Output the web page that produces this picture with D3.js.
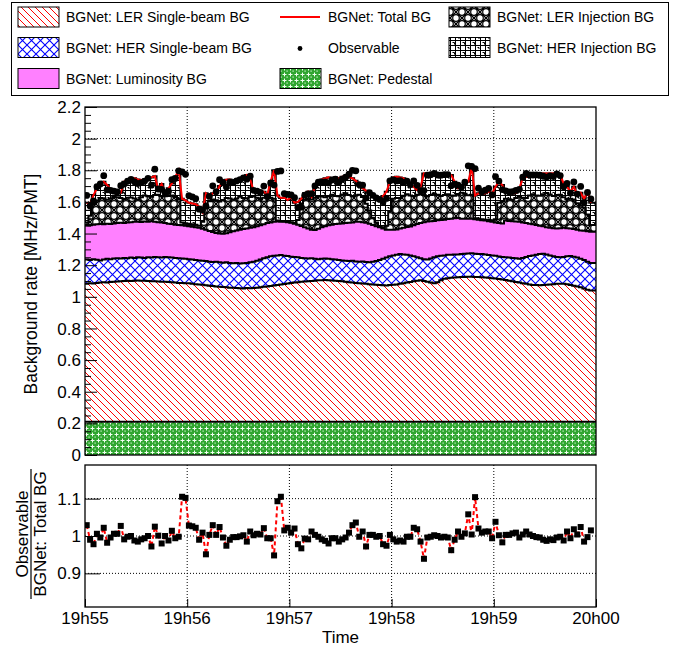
<!DOCTYPE html>
<html><head><meta charset="utf-8">
<script src="https://cdn.jsdelivr.net/npm/d3@7"></script>
<style>
body{margin:0;background:#fff}
svg{display:block}
text{font-family:"Liberation Sans",Arial,Helvetica,sans-serif;fill:#000}
</style>
</head><body>
<svg id="c" width="683" height="648"></svg>
<script>
// ---------------- DATA ----------------
const timeLabels = ["19h55","19h56","19h57","19h58","19h59","20h00"];
const tickSeconds = [0,60,120,180,240,300];
const yTicksMain = [0,0.2,0.4,0.6,0.8,1,1.2,1.4,1.6,1.8,2,2.2];
const yTickLabelsMain = ["0","0.2","0.4","0.6","0.8","1","1.2","1.4","1.6","1.8","2","2.2"];
const yTicksRatio = [0.9,1,1.1];
const yTickLabelsRatio = ["0.9","1","1.1"];

const pedestal = [
0.21,0.21,0.21,0.21,0.21,0.21,0.21,0.21,0.21,0.21,
0.21,0.21,0.21,0.21,0.21,0.21,0.21,0.21,0.21,0.21,
0.21,0.21,0.21,0.21,0.21,0.21,0.21,0.21,0.21,0.21,
0.21,0.21,0.21,0.21,0.21,0.21,0.21,0.21,0.21,0.21,
0.21,0.21,0.21,0.21,0.21,0.21,0.21,0.21,0.21,0.21,
0.21,0.21,0.21,0.21,0.21,0.21,0.21,0.21,0.21,0.21,
0.21,0.21,0.21,0.21,0.21,0.21,0.21,0.21,0.21,0.21,
0.21,0.21,0.21,0.21,0.21,0.21,0.21,0.21,0.21,0.21,
0.21,0.21,0.21,0.21,0.21,0.21,0.21,0.21,0.21,0.21,
0.21,0.21,0.21,0.21,0.21,0.21,0.21,0.21,0.21,0.21,
0.21,0.21,0.21,0.21,0.21,0.21,0.21,0.21,0.21,0.21,
0.21,0.21,0.21,0.21,0.21,0.21,0.21,0.21,0.21,0.21,
0.21,0.21,0.21,0.21,0.21,0.21,0.21,0.21,0.21,0.21,
0.21,0.21,0.21,0.21,0.21,0.21,0.21,0.21,0.21,0.21,
0.21,0.21,0.21,0.21,0.21,0.21,0.21,0.21,0.21];

const lerSingle = [
0.873,0.875,0.874,0.878,0.880,0.882,0.881,0.884,0.886,0.887,
0.889,0.890,0.891,0.890,0.892,0.893,0.891,0.892,0.890,0.889,
0.888,0.887,0.885,0.886,0.884,0.882,0.880,0.878,0.877,0.876,
0.875,0.873,0.870,0.868,0.866,0.863,0.860,0.858,0.856,0.854,
0.852,0.850,0.848,0.847,0.845,0.844,0.843,0.845,0.844,0.846,
0.848,0.850,0.853,0.856,0.859,0.862,0.865,0.868,0.871,0.874,
0.877,0.880,0.882,0.885,0.887,0.889,0.890,0.892,0.894,0.895,
0.896,0.895,0.893,0.892,0.890,0.888,0.885,0.882,0.880,0.878,
0.876,0.874,0.872,0.870,0.868,0.866,0.864,0.863,0.862,0.864,
0.866,0.868,0.872,0.876,0.880,0.884,0.888,0.892,0.894,0.890,
0.885,0.880,0.875,0.882,0.895,0.905,0.908,0.910,0.912,0.914,
0.915,0.916,0.917,0.917,0.916,0.915,0.914,0.912,0.910,0.908,
0.906,0.903,0.900,0.896,0.892,0.888,0.884,0.880,0.876,0.872,
0.868,0.865,0.864,0.863,0.864,0.866,0.868,0.870,0.872,0.873,
0.872,0.869,0.865,0.860,0.856,0.850,0.842,0.835,0.830];

const herSingle = [
0.153,0.147,0.154,0.146,0.140,0.144,0.149,0.144,0.146,0.147,
0.143,0.146,0.143,0.148,0.144,0.147,0.147,0.144,0.150,0.149,
0.154,0.153,0.153,0.156,0.156,0.156,0.156,0.156,0.155,0.154,
0.153,0.153,0.152,0.152,0.152,0.153,0.152,0.152,0.156,0.154,
0.154,0.158,0.156,0.155,0.159,0.156,0.159,0.159,0.164,0.166,
0.170,0.176,0.181,0.184,0.187,0.188,0.187,0.186,0.179,0.174,
0.167,0.162,0.158,0.151,0.147,0.143,0.144,0.138,0.134,0.135,
0.136,0.135,0.135,0.134,0.132,0.132,0.133,0.134,0.138,0.136,
0.136,0.140,0.138,0.138,0.144,0.150,0.158,0.167,0.176,0.182,
0.186,0.188,0.188,0.182,0.176,0.168,0.158,0.148,0.140,0.138,
0.141,0.152,0.165,0.164,0.155,0.147,0.148,0.146,0.145,0.144,
0.145,0.146,0.147,0.148,0.147,0.146,0.146,0.145,0.144,0.143,
0.143,0.142,0.142,0.144,0.146,0.148,0.150,0.150,0.160,0.170,
0.180,0.187,0.192,0.197,0.198,0.192,0.184,0.176,0.170,0.167,
0.170,0.177,0.183,0.184,0.182,0.180,0.180,0.177,0.174];

const luminosity = [
0.218,0.220,0.218,0.224,0.230,0.222,0.222,0.222,0.222,0.222,
0.226,0.220,0.226,0.224,0.228,0.225,0.225,0.230,0.225,0.229,
0.222,0.222,0.222,0.214,0.212,0.212,0.210,0.210,0.210,0.210,
0.208,0.207,0.208,0.206,0.202,0.198,0.194,0.190,0.182,0.182,
0.182,0.184,0.194,0.202,0.206,0.214,0.216,0.218,0.218,0.218,
0.218,0.216,0.214,0.216,0.214,0.214,0.214,0.211,0.214,0.214,
0.214,0.210,0.206,0.202,0.196,0.190,0.180,0.182,0.192,0.200,
0.204,0.212,0.218,0.224,0.230,0.234,0.238,0.242,0.242,0.250,
0.253,0.248,0.248,0.244,0.232,0.220,0.208,0.192,0.176,0.168,
0.162,0.160,0.162,0.168,0.176,0.182,0.196,0.210,0.222,0.234,
0.240,0.236,0.230,0.228,0.226,0.226,0.226,0.228,0.229,0.230,
0.224,0.222,0.220,0.219,0.217,0.217,0.214,0.215,0.214,0.213,
0.211,0.211,0.212,0.232,0.232,0.232,0.232,0.234,0.224,0.214,
0.204,0.196,0.188,0.180,0.174,0.172,0.174,0.178,0.180,0.184,
0.184,0.178,0.174,0.174,0.176,0.180,0.186,0.192,0.198];

const lerInjection = [
0.016,0.060,0.129,0.151,0.165,0.165,0.151,0.161,0.168,0.164,
0.156,0.152,0.157,0.156,0.147,0.141,0.156,0.164,0.161,0.156,
0.169,0.174,0.168,0.169,0.175,0.180,0.175,0.165,0.018,0.015,
0.016,0.015,0.015,0.014,0.045,0.164,0.188,0.205,0.207,0.202,
0.214,0.223,0.213,0.202,0.202,0.208,0.197,0.191,0.195,0.194,
0.181,0.167,0.168,0.168,0.157,0.146,0.006,0.005,0.004,0.004,
0.004,0.006,0.030,0.142,0.175,0.186,0.192,0.205,0.208,0.194,
0.183,0.186,0.190,0.178,0.173,0.183,0.189,0.176,0.166,0.168,
0.170,0.159,0.120,0.083,0.046,0.024,0.005,0.008,0.026,0.118,
0.196,0.199,0.193,0.203,0.206,0.197,0.186,0.185,0.182,0.172,
0.159,0.166,0.172,0.161,0.151,0.155,0.156,0.147,0.143,0.152,
0.164,0.158,0.148,0.152,0.006,0.005,0.006,0.006,0.008,0.010,
0.020,0.128,0.139,0.138,0.137,0.136,0.148,0.158,0.156,0.159,
0.178,0.190,0.187,0.189,0.203,0.216,0.211,0.204,0.212,0.211,
0.194,0.184,0.188,0.187,0.167,0.157,0.146,0.106,0.042];

const herInjection = [
0.125,0.078,0.058,0.077,0.095,0.105,0.094,0.059,0.026,0.024,
0.034,0.110,0.107,0.114,0.128,0.126,0.109,0.102,0.113,0.122,
0.120,0.034,0.075,0.023,0.049,0.077,0.128,0.181,0.150,0.145,
0.133,0.132,0.130,0.120,0.060,0.066,0.026,0.039,0.049,0.098,
0.118,0.115,0.121,0.112,0.116,0.110,0.124,0.147,0.111,0.036,
0.031,0.035,0.039,0.009,0.103,0.180,0.158,0.145,0.150,0.136,
0.158,0.127,0.114,0.030,0.039,0.047,0.017,0.069,0.090,0.108,
0.120,0.117,0.103,0.117,0.114,0.112,0.108,0.115,0.113,0.092,
0.068,0.055,0.083,0.109,0.137,0.158,0.171,0.197,0.215,0.186,
0.135,0.134,0.130,0.110,0.086,0.072,0.058,0.030,0.048,0.136,
0.141,0.132,0.124,0.125,0.139,0.133,0.132,0.129,0.089,0.036,
0.038,0.061,0.086,0.172,0.144,0.161,0.160,0.166,0.179,0.170,
0.206,0.134,0.104,0.045,0.041,0.040,0.034,0.054,0.123,0.134,
0.123,0.122,0.135,0.137,0.131,0.124,0.133,0.142,0.140,0.125,
0.087,0.078,0.045,0.081,0.052,0.081,0.056,0.145,0.141];

// Observable / BGNet Total BG
const ratio = [
1.029,0.990,0.978,1.006,0.996,1.022,0.982,0.996,1.006,1.006,
1.027,0.991,0.998,1.000,0.988,0.985,0.991,0.994,1.000,0.972,
1.025,1.001,0.980,1.000,0.988,1.014,0.994,0.998,1.105,1.102,
1.028,1.026,1.022,0.990,1.009,0.951,1.003,1.029,1.003,1.024,
0.996,0.974,0.990,0.997,0.997,0.999,1.002,0.985,1.012,1.002,
1.006,1.004,1.021,0.994,0.994,0.948,1.093,1.105,1.015,1.022,
1.009,1.020,0.978,0.967,0.993,0.991,1.012,1.003,0.998,0.991,
0.987,0.980,0.994,0.994,0.985,0.991,0.996,1.009,1.029,1.036,
0.998,1.012,0.972,1.003,1.003,0.998,1.000,0.978,0.974,1.003,
0.991,0.985,0.988,0.985,0.998,0.998,1.022,1.018,0.985,0.939,
0.996,0.998,1.002,1.000,0.996,0.998,0.996,0.962,0.990,1.012,
0.998,1.007,1.058,1.004,1.104,1.020,1.009,1.012,1.012,0.994,
1.038,1.002,0.983,1.003,1.003,1.007,1.009,0.996,1.004,1.012,
1.004,1.000,0.997,0.996,0.990,0.987,0.991,0.989,0.996,0.998,
0.988,1.012,0.994,1.018,1.004,1.024,0.985,0.997,1.015];

const binWidth = 2; // seconds per point
const nBins = ratio.length;
const binStart = d3.range(nBins).map(i => i * binWidth);

// ---------------- LAYOUT ----------------
const W = 683, H = 648;
const PX0 = 85, PX1 = 596;
const MY0 = 107, MY1 = 455;   // main panel
const RY0 = 465, RY1 = 607;   // ratio panel

const svg = d3.select("#c");
const x = d3.scaleLinear().domain([0, 300]).range([PX0, PX1]);
const y = d3.scaleLinear().domain([0, 2.2]).range([MY1, MY0]);
const yr = d3.scaleLinear().domain([0.81, 1.19]).range([RY1, RY0]);

// ---------------- PATTERNS ----------------
const defs = svg.append("defs");
function pat(id, w, h, bg) {
  const p = defs.append("pattern").attr("id", id).attr("patternUnits", "userSpaceOnUse")
    .attr("width", w).attr("height", h);
  p.append("rect").attr("width", w).attr("height", h).attr("fill", bg);
  return p;
}
let p;
p = pat("pLER", 7, 7, "#fff");
p.append("path").attr("d", "M0,0L7,7M-1,6L1,8M6,-1L8,1").attr("stroke", "#ff0000").attr("stroke-width", 1).attr("fill", "none");
p = pat("pHER", 9, 9, "#fff");
p.append("path").attr("d", "M0,0L9,9M9,0L0,9").attr("stroke", "#0000ff").attr("stroke-width", 1.1).attr("fill", "none");
p = pat("pLERInj", 12, 12, "#fff");
p.append("path").attr("d", "M0,0L12,12M12,0L0,12").attr("stroke", "#000").attr("stroke-width", 1.3).attr("fill", "none");
[[6,0],[0,6],[12,6],[6,12]].forEach(c => p.append("circle").attr("cx", c[0]).attr("cy", c[1]).attr("r", 3.3)
  .attr("fill", "#fff").attr("stroke", "#000").attr("stroke-width", 1.2));
p = pat("pHERInj", 10, 10, "#fff");
p.append("path").attr("d", "M0,0.5H10M0.5,0V10M0,5.5H10M5.5,0V10M2.5,2.5H4.5V4.5M7.5,7.5H9V9")
  .attr("stroke", "#000").attr("stroke-width", 1).attr("fill", "none");
p = pat("pPed", 6, 6, "#2fa52f");
p.append("path").attr("d", "M0.5,2.5H4.5M2.5,0.5V4.5").attr("stroke", "#f2fff2").attr("stroke-width", 1).attr("fill", "none");
p.append("rect").attr("x", 4.5).attr("y", 4.5).attr("width", 1.2).attr("height", 1.2).attr("fill", "#d8f5d8");

const fills = {
  pedestal: "url(#pPed)", lerSingle: "url(#pLER)", herSingle: "url(#pHER)",
  luminosity: "#ff80ff", lerInjection: "url(#pLERInj)", herInjection: "url(#pHERInj)"
};

// clip paths
defs.append("clipPath").attr("id", "clipMain").append("rect")
  .attr("x", PX0).attr("y", MY0).attr("width", PX1 - PX0).attr("height", MY1 - MY0);
defs.append("clipPath").attr("id", "clipRatio").append("rect")
  .attr("x", PX0).attr("y", RY0).attr("width", PX1 - PX0).attr("height", RY1 - RY0);

svg.append("rect").attr("width", W).attr("height", H).attr("fill", "#fff");

// ---------------- GRID ----------------
function grid(g, y0, y1, yvals, ys) {
  tickSeconds.slice(1, -1).forEach(t => g.append("line").attr("x1", x(t)).attr("x2", x(t))
    .attr("y1", y0).attr("y2", y1).attr("stroke", "#000").attr("stroke-width", 1).attr("stroke-dasharray", "1,2"));
  yvals.forEach(v => g.append("line").attr("x1", PX0).attr("x2", PX1).attr("y1", ys(v)).attr("y2", ys(v))
    .attr("stroke", "#000").attr("stroke-width", 1).attr("stroke-dasharray", "1,2"));
}
grid(svg.append("g"), MY0, MY1, yTicksMain.slice(1, -1), y);
grid(svg.append("g"), RY0, RY1, yTicksRatio, yr);

// ---------------- MAIN STACK ----------------
const keys = ["pedestal", "lerSingle", "herSingle", "luminosity", "lerInjection", "herInjection"];
const seriesMap = { pedestal, lerSingle, herSingle, luminosity, lerInjection, herInjection };
const rows = binStart.map((t, i) => {
  const r = { t };
  keys.forEach(k => r[k] = seriesMap[k][i]);
  return r;
});
const stacked = d3.stack().keys(keys)(rows);

const gMain = svg.append("g").attr("clip-path", "url(#clipMain)");
function stepPts(layer) {
  const pts = layer.map((d, i) => ({ e: binStart[i], lo: d[0], hi: d[1] }));
  const last = layer[layer.length - 1];
  pts.push({ e: 300, lo: last[0], hi: last[1] });
  return pts;
}
const area = d3.area().x(d => x(d.e)).y0(d => y(d.lo)).y1(d => y(d.hi)).curve(d3.curveStepAfter);
const edge = d3.line().x(d => x(d.e)).y(d => y(d.hi)).curve(d3.curveStepAfter);
stacked.forEach(layer => {
  gMain.append("path").datum(stepPts(layer)).attr("d", area).attr("fill", fills[layer.key]).attr("stroke", "none");
});
stacked.forEach(layer => {
  gMain.append("path").datum(stepPts(layer)).attr("d", edge).attr("fill", "none")
    .attr("stroke", "#000").attr("stroke-width", 2);
});

// total line + observable
const topLayer = stacked[stacked.length - 1];
const totalPts = topLayer.map((d, i) => ({ t: binStart[i] + binWidth / 2, v: d[1], r: ratio[i] }));
gMain.append("path").datum(totalPts)
  .attr("d", d3.line().x(d => x(d.t)).y(d => y(d.v)))
  .attr("fill", "none").attr("stroke", "#ff0000").attr("stroke-width", 2);
gMain.selectAll("circle.obs").data(totalPts).enter().append("circle")
  .attr("cx", d => x(d.t)).attr("cy", d => y(d.v * d.r)).attr("r", 3.4).attr("fill", "#000");

// ---------------- RATIO ----------------
const gRatio = svg.append("g").attr("clip-path", "url(#clipRatio)");
gRatio.append("path").datum(totalPts)
  .attr("d", d3.line().x(d => x(d.t)).y(d => yr(d.r)))
  .attr("fill", "none").attr("stroke", "#ff0000").attr("stroke-width", 2).attr("stroke-dasharray", "4,3");
gRatio.selectAll("rect.rp").data(totalPts).enter().append("rect")
  .attr("x", d => x(d.t) - 3).attr("y", d => yr(d.r) - 3).attr("width", 6).attr("height", 6).attr("fill", "#000");

// ---------------- FRAMES & AXES ----------------
svg.append("rect").attr("x", PX0).attr("y", MY0).attr("width", PX1 - PX0).attr("height", MY1 - MY0)
  .attr("fill", "none").attr("stroke", "#000").attr("stroke-width", 1.3);
svg.append("rect").attr("x", PX0).attr("y", RY0).attr("width", PX1 - PX0).attr("height", RY1 - RY0)
  .attr("fill", "none").attr("stroke", "#000").attr("stroke-width", 1.3);

// main y axis (ticks inside)
svg.append("g").attr("transform", `translate(${PX0},0)`)
  .call(d3.axisRight(y).tickValues(yTicksMain).tickSize(12).tickFormat(""));
const minorVals = d3.range(0, 2.2001, 0.05).filter(v => Math.abs(v / 0.2 - Math.round(v / 0.2)) > 1e-6);
svg.append("g").attr("transform", `translate(${PX0},0)`)
  .call(d3.axisRight(y).tickValues(minorVals).tickSize(6).tickFormat(""));
svg.selectAll(".domain").remove();
yTicksMain.forEach((v, i) => svg.append("text").attr("x", 81).attr("y", y(v)).attr("dy", "0.36em")
  .attr("text-anchor", "end").attr("font-size", 17).text(yTickLabelsMain[i]));

// ratio y axis
svg.append("g").attr("transform", `translate(${PX0},0)`)
  .call(d3.axisRight(yr).tickValues(yTicksRatio).tickSize(15).tickFormat(""))
  .select(".domain").remove();
yTicksRatio.forEach((v, i) => svg.append("text").attr("x", 81).attr("y", yr(v)).attr("dy", "0.36em")
  .attr("text-anchor", "end").attr("font-size", 17).text(yTickLabelsRatio[i]));

// x axis (bottom of ratio)
svg.append("g").attr("transform", `translate(0,${RY1})`)
  .call(d3.axisTop(x).tickValues(tickSeconds).tickSize(8).tickFormat(""))
  .select(".domain").remove();
svg.selectAll(".tick line").attr("stroke", "#000").attr("stroke-width", 1);
tickSeconds.forEach((t, i) => svg.append("text").attr("x", x(t)).attr("y", 624)
  .attr("text-anchor", "middle").attr("font-size", 17).text(timeLabels[i]));
svg.append("text").attr("x", (PX0 + PX1) / 2).attr("y", 643).attr("text-anchor", "middle")
  .attr("font-size", 17).text("Time");

// y titles
svg.append("text").attr("transform", `translate(37,${(MY0 + MY1) / 2 + 3}) rotate(-90)`)
  .attr("text-anchor", "middle").attr("font-size", 17.5).text("Background rate [MHz/PMT]");
const rc = 534;
svg.append("text").attr("transform", `translate(28,${rc}) rotate(-90)`)
  .attr("text-anchor", "middle").attr("font-size", 17).text("Observable");
svg.append("line").attr("x1", 31).attr("x2", 31).attr("y1", rc - 65).attr("y2", rc + 65)
  .attr("stroke", "#000").attr("stroke-width", 1.2);
svg.append("text").attr("transform", `translate(46,${rc}) rotate(-90)`)
  .attr("text-anchor", "middle").attr("font-size", 17).text("BGNet: Total BG");

// ---------------- LEGEND ----------------
const lg = svg.append("g");
lg.append("rect").attr("x", 11.5).attr("y", 2.5).attr("width", 657).attr("height", 93)
  .attr("fill", "#fff").attr("stroke", "#000").attr("stroke-width", 1);
const colX = [18, 280, 449];
const rowY = [17, 47.5, 78.5];
const legendItems = [
  { c: 0, r: 0, type: "fill", key: "lerSingle", label: "BGNet: LER Single-beam BG" },
  { c: 0, r: 1, type: "fill", key: "herSingle", label: "BGNet: HER Single-beam BG" },
  { c: 0, r: 2, type: "fill", key: "luminosity", label: "BGNet: Luminosity BG" },
  { c: 1, r: 0, type: "line", label: "BGNet: Total BG" },
  { c: 1, r: 1, type: "marker", label: "Observable" },
  { c: 1, r: 2, type: "fill", key: "pedestal", label: "BGNet: Pedestal" },
  { c: 2, r: 0, type: "fill", key: "lerInjection", label: "BGNet: LER Injection BG" },
  { c: 2, r: 1, type: "fill", key: "herInjection", label: "BGNet: HER Injection BG" }
];
legendItems.forEach(it => {
  const sx = colX[it.c], cy = rowY[it.r];
  if (it.type === "fill") {
    lg.append("rect").attr("x", sx).attr("y", cy - 10).attr("width", 41).attr("height", 20)
      .attr("fill", fills[it.key]).attr("stroke", "#000").attr("stroke-width", 1);
  } else if (it.type === "line") {
    lg.append("line").attr("x1", sx).attr("x2", sx + 40).attr("y1", cy).attr("y2", cy)
      .attr("stroke", "#ff0000").attr("stroke-width", 2);
  } else {
    lg.append("circle").attr("cx", sx + 20).attr("cy", cy + 1).attr("r", 2.4).attr("fill", "#000");
  }
  lg.append("text").attr("x", sx + 48).attr("y", cy).attr("dy", "0.36em").attr("font-size", 14).text(it.label);
});
</script>
</body></html>
